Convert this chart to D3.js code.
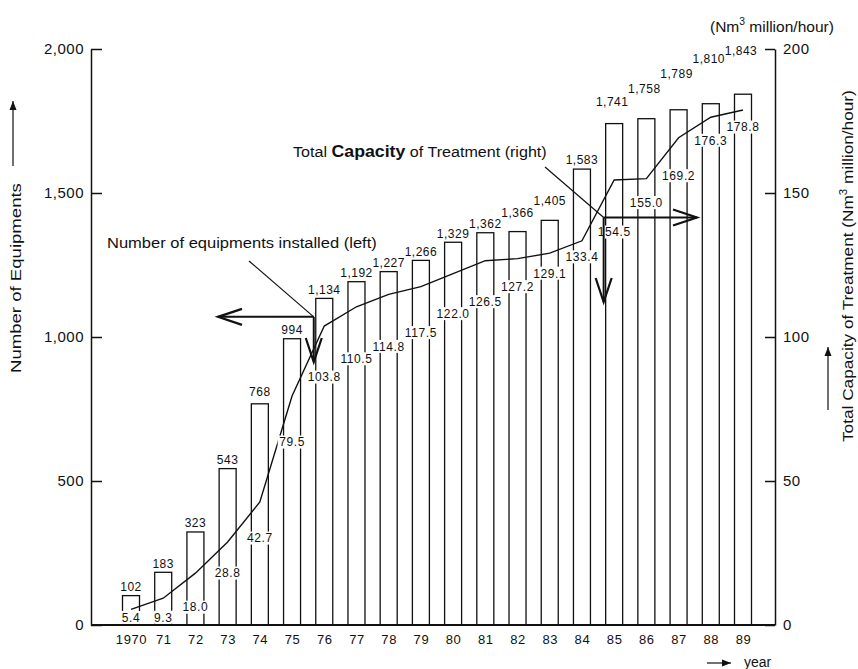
<!DOCTYPE html>
<html><head><meta charset="utf-8">
<script src="https://cdn.jsdelivr.net/npm/d3@7"></script>
<style>
body{margin:0;background:#fff}
svg{display:block}
text{font-family:"Liberation Sans",Arial,Helvetica,sans-serif;fill:#111}
</style>
</head><body>
<svg id="c" width="858" height="669"></svg>
<script>
// ---------------- data ----------------
const years = [1970,1971,1972,1973,1974,1975,1976,1977,1978,1979,1980,1981,1982,1983,1984,1985,1986,1987,1988,1989];
const yearLabels = ["1970","71","72","73","74","75","76","77","78","79","80","81","82","83","84","85","86","87","88","89"];
const equipments = [102,183,323,543,768,994,1134,1192,1227,1266,1329,1362,1366,1405,1583,1741,1758,1789,1810,1843];
const capacity = [5.4,9.3,18.0,28.8,42.7,79.5,103.8,110.5,114.8,117.5,122.0,126.5,127.2,129.1,133.4,154.5,155.0,169.2,176.3,178.8];
const leftTicks = [0,500,1000,1500,2000];
const rightTicks = [0,50,100,150,200];
// layout only: label placement offsets in px
const capLabelDy = [8,19,34,31,36,46,51,52,52,46,40,41,28,20,16,52,24,38,23,17];
const barLabelLift = [9,9,9,9,12,9,9,9,9,9,9,9,19,20,9,22,30,36,45,44];

// ---------------- layout ----------------
const plotL = 91, plotR = 775, plotB = 625, plotT = 49;
const barW = 17;
const ink = "#111";

const svg = d3.select("#c");
svg.append("rect").attr("width",858).attr("height",669).attr("fill","#fff");

const x = d3.scalePoint().domain(years).range([131, 743]);
const yL = d3.scaleLinear().domain([0, 2000]).range([plotB, plotT]);
const yR = d3.scaleLinear().domain([0, 200]).range([plotB, plotT]);

// ---------------- bars ----------------
svg.append("g").selectAll("rect").data(equipments).join("rect")
  .attr("x", (d,i) => x(years[i]) - barW/2)
  .attr("y", d => yL(d))
  .attr("width", barW)
  .attr("height", d => plotB - yL(d))
  .attr("fill", "#fff").attr("stroke", ink).attr("stroke-width", 1.3);

// bar value labels
svg.append("g").selectAll("text").data(equipments).join("text")
  .attr("x", (d,i) => x(years[i]) - (i >= 15 ? 2 : 0))
  .attr("y", (d,i) => yL(d) - barLabelLift[i] + 4.3)
  .attr("text-anchor", "middle")
  .attr("font-size", 12).attr("letter-spacing", 0.5)
  .text(d => d3.format(",")(d));

// ---------------- capacity line ----------------
const line = d3.line().x((d,i) => x(years[i])).y(d => yR(d));
svg.append("path").datum(capacity)
  .attr("d", line).attr("fill","none").attr("stroke", ink).attr("stroke-width", 1.4);

// capacity labels with white backing
const capG = svg.append("g").selectAll("g").data(capacity).join("g")
  .attr("transform", (d,i) => `translate(${x(years[i])},${yR(d) + capLabelDy[i]})`);
capG.append("rect").attr("x",-17).attr("y",-6.5).attr("width",34).attr("height",13).attr("fill","#fff");
capG.append("text")
  .attr("y", 4.3)
  .attr("text-anchor","middle")
  .attr("font-size", 12).attr("letter-spacing", 0.6)
  .text(d => d.toFixed(1));
capG.each(function(){
  const t = d3.select(this).select("text").node();
  const w = t.getComputedTextLength();
  d3.select(this).select("rect").attr("x", -w/2 - 1.5).attr("width", w + 3);
});

// ---------------- axes ----------------
const axL = svg.append("g").attr("transform", `translate(${plotL},0)`)
  .call(d3.axisLeft(yL).tickValues(leftTicks).tickSize(-11).tickSizeOuter(0).tickPadding(7).tickFormat(d3.format(",")));
const axR = svg.append("g").attr("transform", `translate(${plotR},0)`)
  .call(d3.axisRight(yR).tickValues(rightTicks).tickSize(-10).tickSizeOuter(0).tickPadding(8));
[axL, axR].forEach(a => {
  a.selectAll("path,line").attr("stroke", ink).attr("stroke-width", 1.5);
  a.selectAll("text").attr("font-size", 15).attr("letter-spacing", 0.5).attr("fill", ink)
    .attr("font-family", '"Liberation Sans",Arial,sans-serif');
});
const axB = svg.append("g").attr("transform", `translate(0,${plotB})`)
  .call(d3.axisBottom(x).tickSize(0).tickPadding(10).tickFormat((d,i) => yearLabels[i]));
axB.select(".domain").remove();
axB.selectAll("text").attr("font-size", 13).attr("letter-spacing", 0.6).attr("fill", ink)
  .attr("font-family", '"Liberation Sans",Arial,sans-serif');
svg.append("line").attr("x1", plotL).attr("x2", plotR).attr("y1", plotB).attr("y2", plotB)
  .attr("stroke", ink).attr("stroke-width", 1.8);

// ---------------- titles ----------------
function fitted(parent, tx, ty, rot, target, build){
  const g = parent.append("g");
  const t = g.append("text").attr("x",0).attr("y",0);
  build(t);
  const w = g.node().getBBox().width;
  const k = target / w;
  g.attr("transform", `translate(${tx},${ty}) rotate(${rot}) scale(${k},1)`);
  return g;
}
fitted(svg, 21, 373, -90, 190, t => t.attr("font-size", 15).text("Number of Equipments"));
fitted(svg, 853, 442, -90, 352, t => {
  t.attr("font-size", 15);
  t.append("tspan").text("Total Capacity of Treatment (Nm");
  t.append("tspan").attr("dy", -6).attr("font-size", 10).text("3");
  t.append("tspan").attr("dy", 6).text(" million/hour)");
});
fitted(svg, 710, 32, 0, 124, t => {
  t.attr("font-size", 15);
  t.append("tspan").text("(Nm");
  t.append("tspan").attr("dy", -7).attr("font-size", 10).text("3");
  t.append("tspan").attr("dy", 7).text(" million/hour)");
});

// small filled arrows beside axis titles and "year"
function filledArrow(x1,y1,x2,y2){
  svg.append("line").attr("x1",x1).attr("y1",y1).attr("x2",x2).attr("y2",y2)
    .attr("stroke", ink).attr("stroke-width", 1.2);
  const ang = Math.atan2(y2-y1, x2-x1), L = 9, H = 3.5;
  const bx = x2 - L*Math.cos(ang), by = y2 - L*Math.sin(ang);
  const px = -Math.sin(ang)*H, py = Math.cos(ang)*H;
  svg.append("path").attr("d", `M${x2},${y2}L${bx+px},${by+py}L${bx-px},${by-py}Z`).attr("fill", ink);
}
filledArrow(13, 166, 13, 101);
filledArrow(828, 410, 828, 347);
filledArrow(707, 663, 731, 663);
svg.append("text").attr("x", 744).attr("y", 667).attr("font-size", 14).text("year");

// ---------------- annotations ----------------
function openArrow(x1,y1,x2,y2){
  svg.append("line").attr("x1",x1).attr("y1",y1).attr("x2",x2).attr("y2",y2)
    .attr("stroke", ink).attr("stroke-width", 2);
  const ang = Math.atan2(y2-y1, x2-x1), L = 24, H = 8;
  const bx = x2 - L*Math.cos(ang), by = y2 - L*Math.sin(ang);
  const px = -Math.sin(ang)*H, py = Math.cos(ang)*H;
  svg.append("path").attr("d", `M${bx+px},${by+py}L${x2},${y2}L${bx-px},${by-py}`)
    .attr("fill","none").attr("stroke", ink).attr("stroke-width", 2.2);
}
// left series annotation
const jL = {x: x(1976) - barW/2 - 2, y: yL(1070)};
fitted(svg, 107, 248, 0, 270, t => t.attr("font-size", 15).text("Number of equipments installed (left)"));
svg.append("line").attr("x1", 249).attr("y1", 261).attr("x2", jL.x).attr("y2", jL.y)
  .attr("stroke", ink).attr("stroke-width", 1.2);
openArrow(jL.x, jL.y, 218, jL.y);
openArrow(jL.x, jL.y, jL.x, 362);

// right series annotation
const jR = {x: x(1985) - barW/2 - 2, y: yR(141.5)};
fitted(svg, 293, 157, 0, 254, t => {
  t.attr("font-size", 15);
  t.append("tspan").text("Total ");
  t.append("tspan").attr("font-size", 16.5).attr("font-weight", "bold").text("Capacity");
  t.append("tspan").text(" of Treatment (right)");
});
svg.append("line").attr("x1", 545).attr("y1", 167).attr("x2", jR.x).attr("y2", jR.y)
  .attr("stroke", ink).attr("stroke-width", 1.2);
openArrow(jR.x, jR.y, 697, jR.y);
openArrow(jR.x, jR.y, jR.x, 302);
</script>
</body></html>
